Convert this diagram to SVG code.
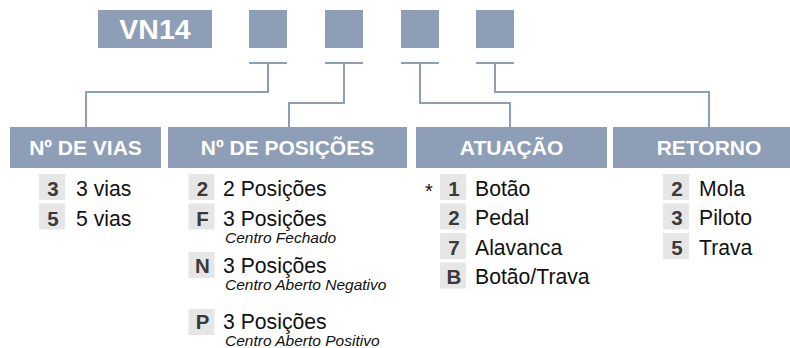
<svg xmlns="http://www.w3.org/2000/svg" width="790" height="348" viewBox="0 0 790 348">
<style>
.hdr{fill:#8d9eb6}
.ht{font-family:"Liberation Sans",Arial,sans-serif;font-weight:bold;font-size:21px;fill:#fff;text-anchor:middle}
.key{fill:#e6e6e6}
.kt{font-family:"Liberation Sans",Arial,sans-serif;font-weight:bold;font-size:20.5px;fill:#3a3a3a;text-anchor:middle}
.it{font-family:"Liberation Sans",Arial,sans-serif;font-size:21.2px;fill:#111}
.sub{font-family:"Liberation Sans",Arial,sans-serif;font-style:italic;font-size:15.5px;fill:#111}
.ln{fill:none;stroke:#8d9eb6;stroke-width:2}
</style>
<rect width="790" height="348" fill="#fff"/>
<g id="code">
<rect class="hdr" x="98" y="10" width="114" height="38"/>
<text x="155" y="39" font-family="Liberation Sans, Arial, sans-serif" font-weight="bold" font-size="28.5" fill="#fff" text-anchor="middle">VN14</text>
</g>
<g id="slot1"><rect class="hdr" x="249" y="10" width="38" height="38"/></g>
<g id="slot2"><rect class="hdr" x="325" y="10" width="38" height="38"/></g>
<g id="slot3"><rect class="hdr" x="401" y="10" width="38" height="38"/></g>
<g id="slot4"><rect class="hdr" x="476" y="10" width="38" height="38"/></g>
<g id="connectors">
<path class="ln" d="M249 63H287M268 63V92H86V127"/>
<path class="ln" d="M325 63H363M344 63V103H289V127"/>
<path class="ln" d="M401 63H439M420 63V103H510V127"/>
<path class="ln" d="M476 63H514M495 63V92H709V127"/>
</g>
<g id="vias">
<rect class="hdr" x="10" y="127" width="151" height="41"/>
<text class="ht" x="85.5" y="155">Nº DE VIAS</text>
<rect class="key" x="39" y="174" width="26" height="26"/>
<text class="kt" x="53" y="196">3</text>
<text class="it" x="76" y="196">3 vias</text>
<rect class="key" x="39" y="203.5" width="26" height="26"/>
<text class="kt" x="53" y="225.5">5</text>
<text class="it" x="76" y="225.5">5 vias</text>
</g>
<g id="posicoes">
<rect class="hdr" x="168" y="127" width="239" height="41"/>
<text class="ht" x="287.5" y="155">Nº DE POSIÇÕES</text>
<rect class="key" x="188.5" y="174" width="26" height="26"/>
<text class="kt" x="202.5" y="196">2</text>
<text class="it" x="223" y="196">2 Posições</text>
<rect class="key" x="188.5" y="203.5" width="26" height="26"/>
<text class="kt" x="202.5" y="225.5">F</text>
<text class="it" x="223" y="225.5">3 Posições</text>
<text class="sub" x="225" y="243">Centro Fechado</text>
<rect class="key" x="188.5" y="252" width="26" height="26"/>
<text class="kt" x="202.5" y="273">N</text>
<text class="it" x="223" y="273">3 Posições</text>
<text class="sub" x="225" y="290">Centro Aberto Negativo</text>
<rect class="key" x="188.5" y="309" width="26" height="26"/>
<text class="kt" x="202.5" y="329">P</text>
<text class="it" x="223" y="329">3 Posições</text>
<text class="sub" x="225" y="346">Centro Aberto Positivo</text>
</g>
<g id="atuacao">
<rect class="hdr" x="416" y="127" width="191" height="41"/>
<text class="ht" x="511.5" y="155">ATUAÇÃO</text>
<text x="425" y="198" font-family="Liberation Sans, Arial, sans-serif" font-size="20" fill="#111">*</text>
<rect class="key" x="440" y="174" width="26" height="26"/>
<text class="kt" x="454" y="195.5">1</text>
<text class="it" x="475" y="195.5">Botão</text>
<rect class="key" x="440" y="203.5" width="26" height="26"/>
<text class="kt" x="454" y="225">2</text>
<text class="it" x="475" y="225">Pedal</text>
<rect class="key" x="440" y="233" width="26" height="26"/>
<text class="kt" x="454" y="254.5">7</text>
<text class="it" x="475" y="254.5">Alavanca</text>
<rect class="key" x="440" y="262.5" width="26" height="26"/>
<text class="kt" x="454" y="284">B</text>
<text class="it" x="475" y="284">Botão/Trava</text>
</g>
<g id="retorno">
<rect class="hdr" x="613" y="127" width="192" height="41"/>
<text class="ht" x="709" y="155">RETORNO</text>
<rect class="key" x="663" y="174" width="26" height="26"/>
<text class="kt" x="677" y="195.5">2</text>
<text class="it" x="699" y="195.5">Mola</text>
<rect class="key" x="663" y="203.5" width="26" height="26"/>
<text class="kt" x="677" y="225">3</text>
<text class="it" x="699" y="225">Piloto</text>
<rect class="key" x="663" y="233" width="26" height="26"/>
<text class="kt" x="677" y="254.5">5</text>
<text class="it" x="699" y="254.5">Trava</text>
</g>
</svg>
